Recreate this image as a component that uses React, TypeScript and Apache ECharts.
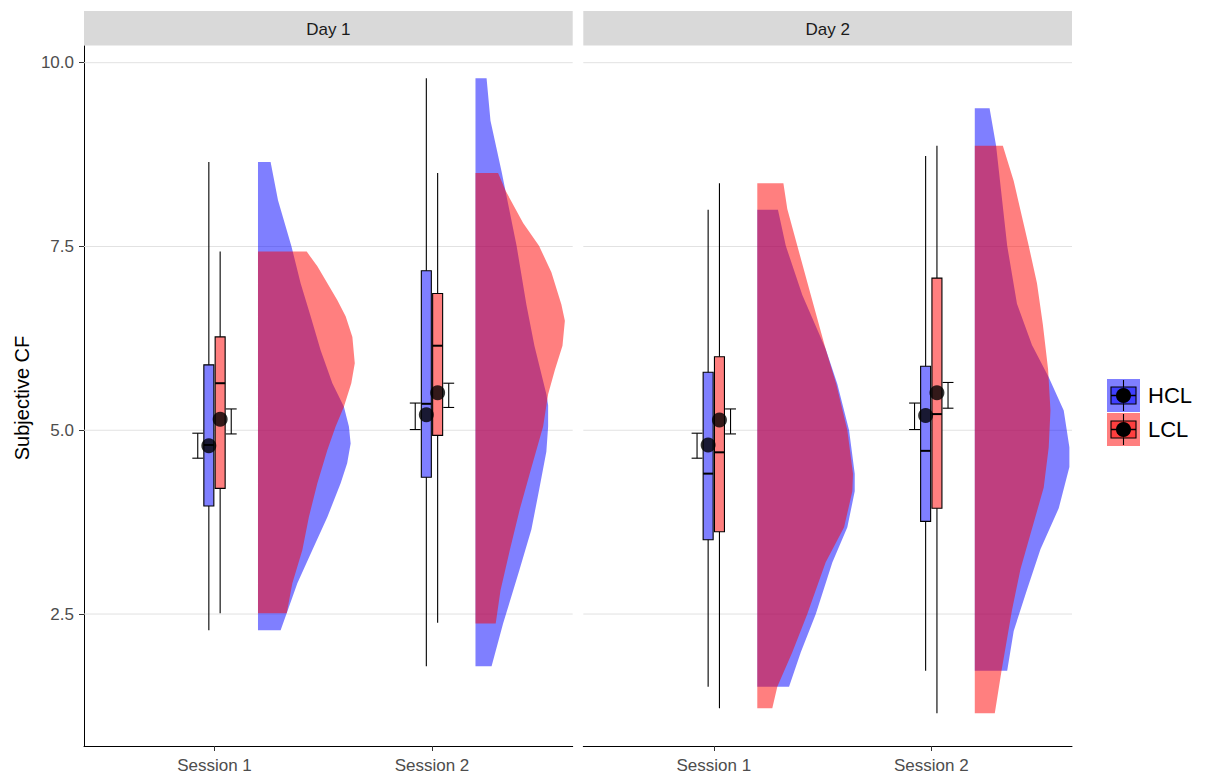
import React, { useEffect, useRef } from "react";
import * as echarts from "echarts";

// ---------------- data ----------------
const days = ["Day 1", "Day 2"];
const sessions = ["Session 1", "Session 2"];
const groups = ["HCL", "LCL"];
const yTicks = [2.5, 5.0, 7.5, 10.0];
const yTitle = "Subjective CF";

// Box stats [lower whisker, Q1, median, Q3, upper whisker], indexed [day][session]
const hclBox = [
  [[2.28, 3.97, 4.8, 5.89, 8.65], [1.79, 4.36, 5.36, 7.17, 9.79]],
  [[1.51, 3.51, 4.41, 5.79, 8.0], [1.73, 3.76, 4.72, 5.87, 8.73]],
];
const lclBox = [
  [[2.51, 4.21, 5.64, 6.27, 7.43], [2.38, 4.93, 6.15, 6.86, 8.5]],
  [[1.22, 3.62, 4.7, 6.0, 8.36], [1.15, 3.94, 5.22, 7.07, 8.87]],
];
// [mean, lower error, upper error], indexed [day][session]
const hclMean = [
  [[4.79, 4.62, 4.96], [5.21, 5.01, 5.37]],
  [[4.8, 4.62, 4.96], [5.2, 5.01, 5.37]],
];
const lclMean = [
  [[5.15, 4.95, 5.29], [5.51, 5.31, 5.64]],
  [[5.14, 4.95, 5.29], [5.51, 5.3, 5.65]],
];

// Half-violin outlines: [y value, density width in x units]
const hclViolinD1S1 = [
  [8.65, 0.058], [8.13, 0.092], [7.5, 0.154], [7.0, 0.196], [6.55, 0.242], [6.09, 0.288],
  [5.64, 0.342], [5.32, 0.395], [5.05, 0.418], [4.82, 0.426], [4.55, 0.41], [4.28, 0.38],
  [3.82, 0.319], [3.37, 0.25], [2.92, 0.181], [2.51, 0.132], [2.28, 0.104],
];
const lclViolinD1S1 = [
  [7.43, 0.224], [7.23, 0.273], [7.0, 0.319], [6.77, 0.365], [6.55, 0.403], [6.27, 0.434],
  [5.91, 0.445], [5.64, 0.429], [5.32, 0.395], [5.05, 0.357], [4.73, 0.319], [4.28, 0.273],
  [3.82, 0.234], [3.37, 0.204], [2.92, 0.158], [2.51, 0.132],
];
const hclViolinD1S2 = [
  [9.79, 0.051], [9.21, 0.069], [8.52, 0.12], [7.51, 0.189], [6.71, 0.234], [6.15, 0.271],
  [5.49, 0.326], [5.34, 0.334], [5.05, 0.334], [4.71, 0.326], [4.21, 0.294], [3.65, 0.257],
  [3.1, 0.202], [2.37, 0.127], [1.79, 0.074],
];
const lclViolinD1S2 = [
  [8.5, 0.104], [8.26, 0.138], [7.82, 0.219], [7.51, 0.292], [7.15, 0.349], [6.71, 0.395],
  [6.49, 0.411], [6.15, 0.4], [5.82, 0.365], [5.49, 0.334], [5.05, 0.311], [4.49, 0.257],
  [3.93, 0.204], [3.37, 0.158], [2.82, 0.115], [2.37, 0.093],
];
const hclViolinD2S1 = [
  [8.0, 0.095], [7.51, 0.131], [6.84, 0.207], [6.11, 0.314], [5.63, 0.368], [5.0, 0.422],
  [4.41, 0.448], [4.17, 0.448], [3.68, 0.414], [3.2, 0.345], [2.5, 0.269], [1.98, 0.2],
  [1.51, 0.146],
];
const lclViolinD2S1 = [
  [8.36, 0.12], [8.01, 0.138], [7.51, 0.184], [6.84, 0.246], [6.11, 0.314], [5.63, 0.363],
  [5.0, 0.414], [4.41, 0.44], [4.17, 0.437], [3.68, 0.399], [3.2, 0.314], [2.5, 0.23],
  [1.98, 0.161], [1.51, 0.092], [1.22, 0.069],
];
const hclViolinD2S2 = [
  [9.38, 0.068], [8.87, 0.098], [7.51, 0.149], [6.72, 0.194], [6.16, 0.263], [5.72, 0.34],
  [5.27, 0.409], [4.77, 0.435], [4.5, 0.435], [3.94, 0.386], [3.38, 0.302], [2.83, 0.24],
  [2.27, 0.179], [1.73, 0.149],
];
const lclViolinD2S2 = [
  [8.87, 0.129], [8.39, 0.179], [7.51, 0.248], [7.0, 0.286], [6.44, 0.313], [5.83, 0.337],
  [5.27, 0.348], [4.77, 0.34], [4.22, 0.317], [3.66, 0.263], [3.11, 0.21], [2.55, 0.171],
  [1.73, 0.123], [1.15, 0.092],
];

// ---------------- layout / style constants ----------------
const X_MIN = 0.4;
const X_MAX = 2.647;
const Y_MIN = 0.705;
const Y_MAX = 10.227;
const VIOLIN_NUDGE = 0.2;
const BOX_DODGE = 0.026;
const BOX_W = 0.046;
const ERR_DODGE = 0.077;
const CAP_W = 0.05;
const FILLS = ["rgba(0,0,255,0.5)", "rgba(255,0,0,0.5)"];
const FONT = "'Liberation Sans', Arial, sans-serif";

const violins = [
  [[hclViolinD1S1, lclViolinD1S1], [hclViolinD1S2, lclViolinD1S2]],
  [[hclViolinD2S1, lclViolinD2S1], [hclViolinD2S2, lclViolinD2S2]],
];
const boxes = [hclBox, lclBox];
const means = [hclMean, lclMean];

const PANEL_LEFT = [84, 583.3];
const PANEL_W = 488.7;
const PANEL_TOP = 46;
const PANEL_H = 700;

function buildOption() {
  const grids: any[] = [];
  const xAxes: any[] = [];
  const yAxes: any[] = [];
  const series: any[] = [];
  const graphics: any[] = [];

  days.forEach((day, d) => {
    grids.push({ left: PANEL_LEFT[d], top: PANEL_TOP, width: PANEL_W, height: PANEL_H, containLabel: false });
    xAxes.push({
      type: "value",
      gridIndex: d,
      min: X_MIN,
      max: X_MAX,
      axisLine: { show: true, onZero: false, lineStyle: { color: "#000", width: 1 } },
      axisTick: { show: true, customValues: [1, 2], length: 5, lineStyle: { color: "#333" } },
      axisLabel: {
        show: true,
        customValues: [1, 2],
        formatter: (v: number) => sessions[Math.round(v) - 1] ?? "",
        fontSize: 17,
        color: "#4d4d4d",
        fontFamily: FONT,
        margin: 11,
      },
      splitLine: { show: false },
    });
    yAxes.push({
      type: "value",
      gridIndex: d,
      min: Y_MIN,
      max: Y_MAX,
      axisLine: { show: d === 0, onZero: false, lineStyle: { color: "#000", width: 1 } },
      axisTick: { show: d === 0, customValues: yTicks, length: 5, lineStyle: { color: "#333" } },
      axisLabel: {
        show: d === 0,
        customValues: yTicks,
        formatter: (v: number) => v.toFixed(1),
        fontSize: 17,
        color: "#4d4d4d",
        fontFamily: FONT,
        margin: 10,
      },
      splitLine: { show: false },
    });

    // grid lines
    series.push({
      type: "custom",
      xAxisIndex: d,
      yAxisIndex: d,
      silent: true,
      z: 1,
      data: yTicks.map((t) => [1, t]),
      renderItem: (_p: any, api: any) => {
        const t = api.value(1);
        const a = api.coord([X_MIN, t]);
        const b = api.coord([X_MAX, t]);
        return {
          type: "line",
          shape: { x1: a[0], y1: a[1], x2: b[0], y2: b[1] },
          style: { stroke: "#e2e2e2", lineWidth: 1 },
        };
      },
    });

    // violins (HCL first, LCL on top)
    const vData: number[][] = [];
    groups.forEach((_g, g) => sessions.forEach((_s, s) => vData.push([s + 1, g])));
    series.push({
      type: "custom",
      xAxisIndex: d,
      yAxisIndex: d,
      silent: true,
      z: 2,
      data: vData,
      renderItem: (_p: any, api: any) => {
        const s = api.value(0);
        const g = api.value(1);
        const outline = violins[d][s - 1][g];
        const x0 = s + VIOLIN_NUDGE;
        const pts: number[][] = [api.coord([x0, outline[0][0]])];
        outline.forEach((p) => pts.push(api.coord([x0 + p[1], p[0]])));
        pts.push(api.coord([x0, outline[outline.length - 1][0]]));
        return { type: "polygon", shape: { points: pts }, style: { fill: FILLS[g], stroke: "none" } };
      },
    });

    // boxplots
    const bData: number[][] = [];
    groups.forEach((_g, g) =>
      sessions.forEach((_s, s) => {
        const st = boxes[g][d][s];
        bData.push([s + 1 + (g === 0 ? -BOX_DODGE : BOX_DODGE), st[0], st[1], st[2], st[3], st[4], g]);
      })
    );
    series.push({
      type: "custom",
      xAxisIndex: d,
      yAxisIndex: d,
      silent: true,
      z: 3,
      data: bData,
      renderItem: (_p: any, api: any) => {
        const x = api.value(0);
        const g = api.value(6);
        const half = api.size([BOX_W, 0])[0] / 2;
        const lo = api.coord([x, api.value(1)]);
        const q1 = api.coord([x, api.value(2)]);
        const med = api.coord([x, api.value(3)]);
        const q3 = api.coord([x, api.value(4)]);
        const hi = api.coord([x, api.value(5)]);
        return {
          type: "group",
          children: [
            { type: "line", shape: { x1: lo[0], y1: lo[1], x2: hi[0], y2: hi[1] }, style: { stroke: "#000", lineWidth: 1.1 } },
            {
              type: "rect",
              shape: { x: q3[0] - half, y: q3[1], width: half * 2, height: q1[1] - q3[1] },
              style: { fill: "#fff", stroke: "none" },
            },
            {
              type: "rect",
              shape: { x: q3[0] - half, y: q3[1], width: half * 2, height: q1[1] - q3[1] },
              style: { fill: FILLS[g], stroke: "#000", lineWidth: 1.1 },
            },
            { type: "line", shape: { x1: med[0] - half, y1: med[1], x2: med[0] + half, y2: med[1] }, style: { stroke: "#000", lineWidth: 2 } },
          ],
        };
      },
    });

    // error bars
    const eData: number[][] = [];
    groups.forEach((_g, g) =>
      sessions.forEach((_s, s) => {
        const m = means[g][d][s];
        eData.push([s + 1 + (g === 0 ? -ERR_DODGE : ERR_DODGE), m[1], m[2]]);
      })
    );
    series.push({
      type: "custom",
      xAxisIndex: d,
      yAxisIndex: d,
      silent: true,
      z: 4,
      data: eData,
      renderItem: (_p: any, api: any) => {
        const x = api.value(0);
        const half = api.size([CAP_W, 0])[0] / 2;
        const lo = api.coord([x, api.value(1)]);
        const hi = api.coord([x, api.value(2)]);
        const st = { stroke: "#000", lineWidth: 1.1 };
        return {
          type: "group",
          children: [
            { type: "line", shape: { x1: lo[0], y1: lo[1], x2: hi[0], y2: hi[1] }, style: st },
            { type: "line", shape: { x1: lo[0] - half, y1: lo[1], x2: lo[0] + half, y2: lo[1] }, style: st },
            { type: "line", shape: { x1: hi[0] - half, y1: hi[1], x2: hi[0] + half, y2: hi[1] }, style: st },
          ],
        };
      },
    });

    // means
    const mData: number[][] = [];
    groups.forEach((_g, g) =>
      sessions.forEach((_s, s) => {
        mData.push([s + 1 + (g === 0 ? -BOX_DODGE : BOX_DODGE), means[g][d][s][0]]);
      })
    );
    series.push({
      type: "scatter",
      xAxisIndex: d,
      yAxisIndex: d,
      silent: true,
      z: 5,
      symbol: "circle",
      symbolSize: 15,
      itemStyle: { color: "#000" },
      data: mData,
    });

    // strip
    graphics.push({
      type: "rect",
      shape: { x: PANEL_LEFT[d], y: 11, width: PANEL_W, height: 34.5 },
      style: { fill: "#d9d9d9" },
      silent: true,
    });
    graphics.push({
      type: "text",
      x: PANEL_LEFT[d] + PANEL_W / 2,
      y: 29,
      style: { text: day, fill: "#1a1a1a", fontSize: 17, fontFamily: FONT, align: "center", verticalAlign: "middle" },
      silent: true,
    });
  });

  // y axis title
  graphics.push({
    type: "text",
    x: 22,
    y: 398,
    rotation: Math.PI / 2,
    style: { text: yTitle, fill: "#000", fontSize: 20, fontFamily: FONT, align: "center", verticalAlign: "middle" },
    silent: true,
  });

  // legend
  groups.forEach((name, g) => {
    const kx = 1107;
    const ky = 379 + g * 34;
    const cx = kx + 16.5;
    const cy = ky + 16.5;
    graphics.push({ type: "rect", shape: { x: kx, y: ky, width: 33, height: 33 }, style: { fill: FILLS[g] }, silent: true });
    graphics.push({ type: "line", shape: { x1: cx, y1: ky + 1, x2: cx, y2: ky + 32 }, style: { stroke: "#000", lineWidth: 1.1 }, silent: true });
    graphics.push({
      type: "rect",
      shape: { x: kx + 4, y: ky + 8, width: 25, height: 17 },
      style: { fill: FILLS[g], stroke: "#000", lineWidth: 1.1 },
      silent: true,
    });
    graphics.push({ type: "line", shape: { x1: kx + 4, y1: cy, x2: kx + 29, y2: cy }, style: { stroke: "#000", lineWidth: 1.5 }, silent: true });
    graphics.push({ type: "circle", shape: { cx, cy, r: 7.5 }, style: { fill: "#000" }, silent: true });
    graphics.push({
      type: "text",
      x: kx + 41,
      y: cy,
      style: { text: name, fill: "#000", fontSize: 22, fontFamily: FONT, align: "left", verticalAlign: "middle" },
      silent: true,
    });
  });

  return {
    animation: false,
    backgroundColor: "#fff",
    grid: grids,
    xAxis: xAxes,
    yAxis: yAxes,
    series,
    graphic: { elements: graphics },
  };
}

export default function App() {
  const ref = useRef<HTMLDivElement>(null);
  useEffect(() => {
    document.body.style.margin = "0";
    const chart = echarts.init(ref.current!, undefined, { renderer: "svg" });
    chart.setOption(buildOption() as any);
    return () => chart.dispose();
  }, []);
  return <div ref={ref} style={{ width: 1205, height: 776 }} />;
}
